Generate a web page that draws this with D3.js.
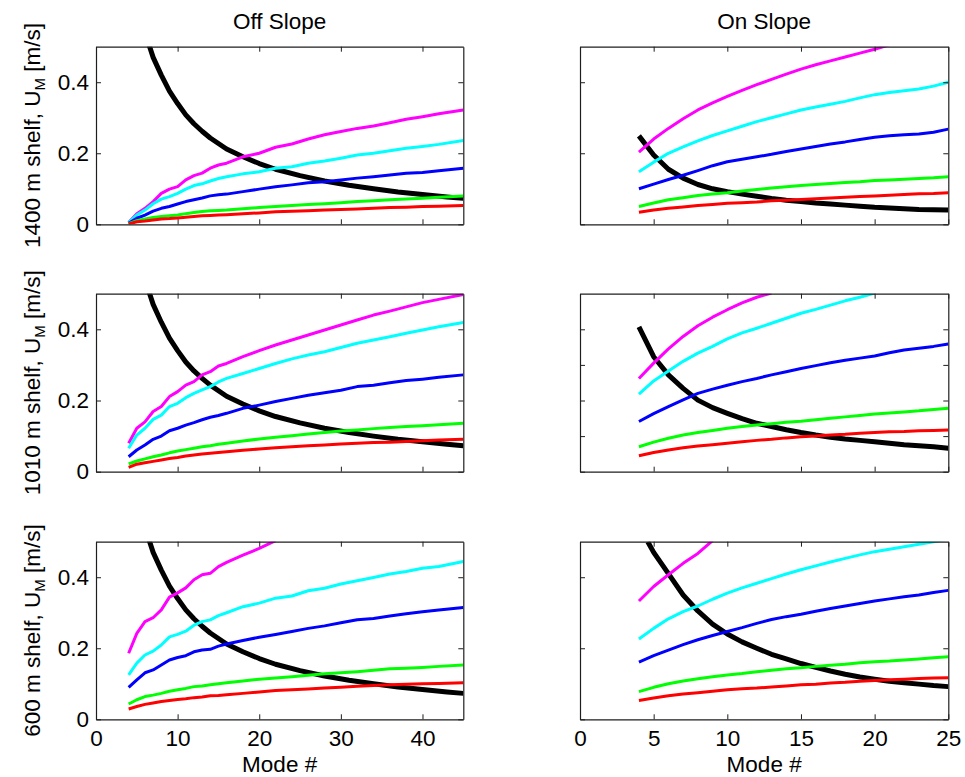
<!DOCTYPE html>
<html>
<head>
<meta charset="utf-8">
<script src="https://cdn.jsdelivr.net/npm/d3@7"></script>
<style>
  html, body { margin: 0; padding: 0; background: #fff; }
  svg { display: block; font-family: "Liberation Sans", Arial, Helvetica, sans-serif; }
</style>
</head>
<body>
<svg id="chart" width="965" height="777"></svg>
<script>
// Mode numbers sampled on the off-slope (0-45) and on-slope (0-25) axes
const offModes = [4,5,6,7,8,9,10,11,12,13,14,15,16,18,20,22,24,26,28,30,32,34,36,38,40,42,45];
const onModes  = [4,5,6,7,8,9,10,11,12,13,14,15,16,17,18,19,20,21,22,23,24,25];

// Off slope, 1400 m shelf
const off1400Magenta = [0.005,0.030,0.045,0.064,0.087,0.099,0.106,0.125,0.137,0.144,0.158,0.167,0.172,0.190,0.200,0.217,0.226,0.240,0.252,0.261,0.270,0.277,0.286,0.296,0.303,0.311,0.322];
const off1400Cyan    = [0.005,0.026,0.040,0.058,0.071,0.078,0.087,0.099,0.109,0.114,0.122,0.129,0.134,0.142,0.148,0.158,0.162,0.172,0.178,0.186,0.195,0.200,0.207,0.214,0.219,0.225,0.236];
const off1400Blue    = [0.003,0.017,0.026,0.037,0.045,0.050,0.057,0.064,0.069,0.074,0.080,0.083,0.085,0.092,0.099,0.106,0.111,0.117,0.120,0.125,0.130,0.134,0.139,0.144,0.146,0.151,0.158];
const off1400Green   = [0.002,0.010,0.015,0.019,0.022,0.024,0.026,0.030,0.033,0.036,0.038,0.039,0.040,0.044,0.047,0.050,0.053,0.056,0.058,0.061,0.064,0.066,0.069,0.071,0.073,0.076,0.080];
const off1400Red     = [0.001,0.007,0.009,0.012,0.015,0.016,0.018,0.020,0.022,0.024,0.025,0.026,0.027,0.030,0.032,0.035,0.037,0.038,0.040,0.042,0.043,0.045,0.047,0.048,0.050,0.051,0.053];

// Off slope, 1010 m shelf
const off1010Magenta = [0.080,0.122,0.140,0.169,0.183,0.211,0.225,0.243,0.253,0.272,0.281,0.297,0.304,0.323,0.340,0.356,0.370,0.384,0.398,0.412,0.426,0.440,0.451,0.463,0.475,0.484,0.498];
const off1010Cyan    = [0.066,0.103,0.122,0.147,0.159,0.183,0.192,0.208,0.220,0.230,0.239,0.252,0.262,0.276,0.290,0.304,0.317,0.328,0.337,0.349,0.361,0.370,0.379,0.389,0.398,0.407,0.419];
const off1010Blue    = [0.042,0.061,0.075,0.091,0.100,0.115,0.122,0.131,0.138,0.146,0.153,0.158,0.164,0.178,0.187,0.197,0.206,0.215,0.222,0.229,0.239,0.243,0.250,0.256,0.260,0.265,0.272];
const off1010Green   = [0.022,0.030,0.036,0.042,0.047,0.053,0.058,0.062,0.066,0.070,0.073,0.077,0.080,0.086,0.092,0.097,0.101,0.106,0.110,0.114,0.117,0.121,0.124,0.127,0.129,0.132,0.136];
const off1010Red     = [0.012,0.021,0.025,0.029,0.033,0.037,0.040,0.044,0.047,0.050,0.052,0.054,0.056,0.060,0.064,0.067,0.070,0.073,0.075,0.078,0.080,0.082,0.083,0.085,0.087,0.089,0.091];

// Off slope, 600 m shelf
const off600Magenta  = [0.186,0.242,0.275,0.286,0.308,0.344,0.356,0.370,0.393,0.407,0.411,0.430,0.442,0.462,0.481,0.503,null,null,null,null,null,null,null,null,null,null,null];
const off600Cyan     = [0.125,0.158,0.181,0.192,0.209,0.232,0.239,0.248,0.265,0.275,0.280,0.292,0.300,0.317,0.327,0.341,0.347,0.362,0.369,0.381,0.390,0.399,0.409,0.416,0.425,0.430,0.444];
const off600Blue     = [0.090,0.111,0.131,0.139,0.153,0.167,0.174,0.179,0.190,0.195,0.197,0.206,0.212,0.222,0.231,0.239,0.247,0.256,0.263,0.272,0.280,0.284,0.291,0.297,0.303,0.308,0.315];
const off600Green    = [0.043,0.055,0.064,0.068,0.073,0.079,0.083,0.087,0.092,0.094,0.097,0.100,0.103,0.108,0.113,0.116,0.120,0.124,0.128,0.131,0.134,0.138,0.142,0.144,0.146,0.149,0.153];
const off600Red      = [0.029,0.036,0.042,0.046,0.050,0.053,0.056,0.058,0.061,0.063,0.066,0.067,0.069,0.073,0.077,0.081,0.083,0.085,0.088,0.090,0.093,0.095,0.097,0.099,0.100,0.101,0.103];

// Off slope reference curve (black), shared by all shelf depths
const offBlackModes  = [6,7,8,9,10,11,12,13,14,16,18,20,22,25,28,31,34,37,40,43,45];
const offBlack       = [0.540,0.470,0.420,0.375,0.340,0.308,0.283,0.262,0.243,0.212,0.190,0.171,0.155,0.137,0.122,0.110,0.100,0.091,0.084,0.077,0.073];

// On slope, 1400 m shelf
const on1400Magenta  = [0.203,0.240,0.270,0.297,0.322,0.342,0.360,0.377,0.393,0.408,0.423,0.437,0.449,0.460,0.471,0.482,0.493,0.505,null,null,null,null];
const on1400Cyan     = [0.148,0.175,0.200,0.218,0.235,0.250,0.263,0.276,0.289,0.300,0.311,0.322,0.330,0.338,0.346,0.356,0.365,0.371,0.376,0.381,0.389,0.400];
const on1400Blue     = [0.100,0.113,0.126,0.138,0.151,0.165,0.176,0.183,0.190,0.197,0.205,0.212,0.219,0.226,0.232,0.239,0.245,0.249,0.252,0.254,0.259,0.268];
const on1400Green    = [0.050,0.060,0.069,0.075,0.081,0.085,0.089,0.094,0.098,0.102,0.106,0.109,0.112,0.115,0.118,0.120,0.123,0.125,0.127,0.129,0.131,0.134];
const on1400Red      = [0.034,0.040,0.045,0.049,0.053,0.056,0.059,0.061,0.063,0.066,0.068,0.070,0.072,0.074,0.076,0.078,0.080,0.082,0.084,0.086,0.087,0.089];
const on1400Black    = [0.249,0.195,0.155,0.130,0.112,0.100,0.092,0.085,0.079,0.073,0.068,0.064,0.060,0.057,0.054,0.051,0.048,0.046,0.044,0.042,0.041,0.040];

// On slope, 1010 m shelf
const on1010Magenta  = [0.262,0.305,0.345,0.380,0.410,0.434,0.455,0.474,0.490,0.502,null,null,null,null,null,null,null,null,null,null,null,null];
const on1010Cyan     = [0.218,0.255,0.283,0.310,0.333,0.352,0.373,0.390,0.403,0.417,0.431,0.445,0.456,0.468,0.480,0.490,0.502,null,null,null,null,null];
const on1010Blue     = [0.141,0.163,0.183,0.202,0.220,0.232,0.243,0.253,0.262,0.272,0.281,0.290,0.298,0.306,0.313,0.319,0.325,0.334,0.342,0.347,0.352,0.359];
const on1010Green    = [0.070,0.083,0.094,0.103,0.110,0.116,0.122,0.127,0.131,0.135,0.139,0.142,0.146,0.150,0.154,0.158,0.162,0.165,0.168,0.171,0.175,0.178];
const on1010Red      = [0.045,0.054,0.061,0.067,0.072,0.076,0.080,0.084,0.088,0.091,0.095,0.098,0.100,0.103,0.105,0.108,0.110,0.112,0.113,0.115,0.116,0.117];
const on1010Black    = [0.407,0.323,0.272,0.234,0.201,0.180,0.164,0.149,0.136,0.127,0.118,0.110,0.103,0.097,0.092,0.088,0.084,0.080,0.076,0.073,0.070,0.066];

// On slope, 600 m shelf
const on600Magenta   = [0.333,0.374,0.407,0.439,0.467,0.503,null,null,null,null,null,null,null,null,null,null,null,null,null,null,null,null];
const on600Cyan      = [0.226,0.256,0.283,0.303,0.319,0.338,0.355,0.370,0.383,0.396,0.409,0.421,0.432,0.443,0.453,0.463,0.472,0.479,0.486,0.493,0.500,0.507];
const on600Blue      = [0.161,0.179,0.195,0.210,0.224,0.236,0.247,0.258,0.270,0.281,0.289,0.296,0.304,0.312,0.319,0.326,0.333,0.339,0.345,0.350,0.357,0.363];
const on600Green     = [0.078,0.090,0.100,0.108,0.114,0.120,0.125,0.129,0.134,0.138,0.142,0.145,0.149,0.152,0.155,0.159,0.162,0.164,0.167,0.170,0.173,0.176];
const on600Red       = [0.053,0.060,0.066,0.071,0.075,0.079,0.083,0.086,0.088,0.091,0.094,0.097,0.099,0.102,0.104,0.107,0.109,0.111,0.113,0.115,0.116,0.117];
const on600BlackModes = [4.6,5,6,7,8,9,10,11,12,13,14,15,16,17,18,19,20,21,22,23,24,25];
const on600Black     = [0.500,0.470,0.410,0.350,0.305,0.268,0.240,0.218,0.200,0.183,0.170,0.157,0.146,0.136,0.127,0.119,0.113,0.107,0.103,0.099,0.095,0.092];

// Axis ticks and labels
const offXTicks = [0,10,20,30,40];
const onXTicks  = [0,5,10,15,20,25];
const yTicks    = [0,0.2,0.4];
const yTicksFine = [0,0.1,0.2,0.3,0.4];
const columnTitles = ["Off Slope", "On Slope"];
const shelfLabels = ["1400 m shelf, ", "1010 m shelf, ", "600 m shelf, "];
const xLabel = "Mode #";

const colors = { magenta: "#ff00ff", cyan: "#00ffff", blue: "#0000ff", green: "#00ff00", red: "#ff0000", black: "#000000" };

// Layout
const colX = [[96, 463.3], [580, 948.3]];
const rowY = [[46.7, 224.3], [293.7, 471.7], [541.7, 719.3]];
const fontSize = 22.5;

const svg = d3.select("#chart");

function colored(modes, values, color) {
  return { points: modes.map((m, i) => [m, values[i]]), color, width: 3 };
}
function blackLine(modes, values) {
  return { points: modes.map((m, i) => [m, values[i]]), color: colors.black, width: 5 };
}

// Black reference curve is drawn first so the coloured curves sit above it
const panels = [
  { row: 0, col: 0, xMax: 45, xTicks: offXTicks, yTicks: yTicks, lines: [
    blackLine(offBlackModes, offBlack),
    colored(offModes, off1400Magenta, colors.magenta), colored(offModes, off1400Cyan, colors.cyan),
    colored(offModes, off1400Blue, colors.blue), colored(offModes, off1400Green, colors.green),
    colored(offModes, off1400Red, colors.red)] },
  { row: 1, col: 0, xMax: 45, xTicks: offXTicks, yTicks: yTicks, lines: [
    blackLine(offBlackModes, offBlack),
    colored(offModes, off1010Magenta, colors.magenta), colored(offModes, off1010Cyan, colors.cyan),
    colored(offModes, off1010Blue, colors.blue), colored(offModes, off1010Green, colors.green),
    colored(offModes, off1010Red, colors.red)] },
  { row: 2, col: 0, xMax: 45, xTicks: offXTicks, yTicks: yTicks, lines: [
    blackLine(offBlackModes, offBlack),
    colored(offModes, off600Magenta, colors.magenta), colored(offModes, off600Cyan, colors.cyan),
    colored(offModes, off600Blue, colors.blue), colored(offModes, off600Green, colors.green),
    colored(offModes, off600Red, colors.red)] },
  { row: 0, col: 1, xMax: 25, xTicks: onXTicks, yTicks: yTicks, lines: [
    blackLine(onModes, on1400Black),
    colored(onModes, on1400Magenta, colors.magenta), colored(onModes, on1400Cyan, colors.cyan),
    colored(onModes, on1400Blue, colors.blue), colored(onModes, on1400Green, colors.green),
    colored(onModes, on1400Red, colors.red)] },
  { row: 1, col: 1, xMax: 25, xTicks: onXTicks, yTicks: yTicksFine, lines: [
    blackLine(onModes, on1010Black),
    colored(onModes, on1010Magenta, colors.magenta), colored(onModes, on1010Cyan, colors.cyan),
    colored(onModes, on1010Blue, colors.blue), colored(onModes, on1010Green, colors.green),
    colored(onModes, on1010Red, colors.red)] },
  { row: 2, col: 1, xMax: 25, xTicks: onXTicks, yTicks: yTicks, lines: [
    blackLine(on600BlackModes, on600Black),
    colored(onModes, on600Magenta, colors.magenta), colored(onModes, on600Cyan, colors.cyan),
    colored(onModes, on600Blue, colors.blue), colored(onModes, on600Green, colors.green),
    colored(onModes, on600Red, colors.red)] }
];

const tickLen = 5;
const axisColor = "#1e1e1e";

panels.forEach((p, idx) => {
  const [x0, x1] = colX[p.col];
  const [yTop, yBot] = rowY[p.row];
  const x = d3.scaleLinear().domain([0, p.xMax]).range([x0, x1]);
  const y = d3.scaleLinear().domain([0, 0.5]).range([yBot, yTop]);
  const g = svg.append("g");

  const clipId = "clip" + idx;
  svg.append("clipPath").attr("id", clipId)
    .append("rect").attr("x", x0).attr("y", yTop).attr("width", x1 - x0).attr("height", yBot - yTop);

  // data lines
  const lineGen = d3.line()
    .defined(d => d[1] !== null)
    .x(d => x(d[0])).y(d => y(d[1]));
  const lg = g.append("g").attr("clip-path", `url(#${clipId})`);
  p.lines.forEach(l => {
    lg.append("path").datum(l.points)
      .attr("d", lineGen)
      .attr("fill", "none")
      .attr("stroke", l.color)
      .attr("stroke-width", l.width)
      .attr("stroke-linejoin", "round")
      .attr("stroke-linecap", "butt");
  });

  // axes on all four sides, ticks pointing inward
  const showX = p.row === 2, showY = p.col === 0;
  const fmt = d3.format("~g");
  const bottom = d3.axisBottom(x).tickValues(p.xTicks).tickSizeInner(-tickLen).tickSizeOuter(0)
    .tickPadding(11).tickFormat(showX ? fmt : () => "");
  const top = d3.axisTop(x).tickValues(p.xTicks).tickSizeInner(-tickLen).tickSizeOuter(0).tickFormat(() => "");
  const left = d3.axisLeft(y).tickValues(p.yTicks).tickSizeInner(-tickLen).tickSizeOuter(0)
    .tickPadding(7).tickFormat(showY ? fmt : () => "");
  const right = d3.axisRight(y).tickValues(p.yTicks).tickSizeInner(-tickLen).tickSizeOuter(0).tickFormat(() => "");

  const axes = [
    g.append("g").attr("transform", `translate(0,${yBot})`).call(bottom),
    g.append("g").attr("transform", `translate(0,${yTop})`).call(top),
    g.append("g").attr("transform", `translate(${x0},0)`).call(left),
    g.append("g").attr("transform", `translate(${x1},0)`).call(right)
  ];
  axes.forEach(a => {
    a.selectAll(".domain").attr("stroke", axisColor).attr("stroke-width", 1.2);
    a.selectAll(".tick line").attr("stroke", axisColor).attr("stroke-width", 1);
    a.selectAll("text").attr("fill", "#000").attr("font-size", fontSize)
      .attr("font-family", '"Liberation Sans", Arial, Helvetica, sans-serif');
  });

  // column titles
  if (p.row === 0) {
    g.append("text").attr("x", (x0 + x1) / 2).attr("y", 28.5)
      .attr("text-anchor", "middle").attr("font-size", fontSize)
      .text(columnTitles[p.col]);
  }
  // x axis label
  if (p.row === 2) {
    g.append("text").attr("x", (x0 + x1) / 2).attr("y", 771.5)
      .attr("text-anchor", "middle").attr("font-size", fontSize)
      .text(xLabel);
  }
  // y axis label with subscript
  if (p.col === 0) {
    const cy = (yTop + yBot) / 2;
    const t = g.append("text")
      .attr("transform", `translate(40,${cy}) rotate(-90)`)
      .attr("text-anchor", "middle").attr("font-size", fontSize);
    t.append("tspan").text(shelfLabels[p.row] + "U");
    t.append("tspan").attr("font-size", 15).attr("dy", 5).text("M");
    t.append("tspan").attr("dy", -5).text(" [m/s]");
  }
});
</script>
</body>
</html>
